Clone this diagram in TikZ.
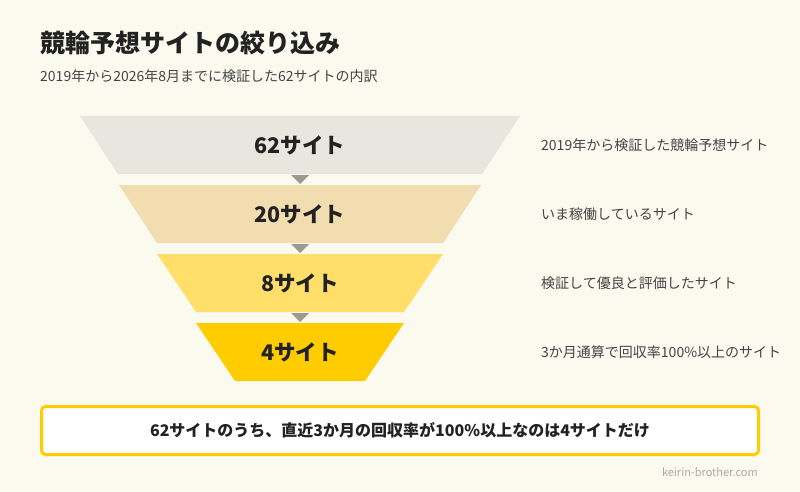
\documentclass[tikz,border=0pt]{standalone}
\usepackage{fontspec}
\setmainfont{Noto Sans CJK JP}
\usepackage{xcolor}
\usetikzlibrary{positioning,calc}

\definecolor{bgcream}{HTML}{FAFAEF}
\definecolor{inkdark}{HTML}{222222}
\definecolor{inkmid}{HTML}{444444}
\definecolor{stageA}{HTML}{E8E6DF}
\definecolor{stageB}{HTML}{F1DDAF}
\definecolor{stageC}{HTML}{FFDE6A}
\definecolor{stageD}{HTML}{FFCC00}
\definecolor{tipgray}{HTML}{9A9A92}
\definecolor{sitegray}{HTML}{AAAAAA}

\begin{document}
\begin{tikzpicture}[x=1pt, y=-1pt,
  stagetext/.style={font=\fontsize{21.5}{24}\selectfont\bfseries, text=inkdark, inner sep=0pt},
  notetext/.style={font=\fontsize{14}{16}\selectfont, text=inkmid, anchor=west, inner sep=0pt},
  summarybox/.style={draw=stageD, line width=3pt, rounded corners=4pt, fill=white,
    minimum width=717pt, minimum height=48pt, inner sep=0pt,
    font=\fontsize{16}{19}\selectfont\bfseries, text=inkdark}]
  % Background
  \fill[bgcream] (0,0) rectangle (800,492);
  \useasboundingbox (0,0) rectangle (800,492);

  % Heading
  \node[anchor=west, inner sep=0pt, text=inkdark, font=\fontsize{25}{28}\selectfont\bfseries]
    (title) at (40,43) {競輪予想サイトの絞り込み};
  \node[anchor=west, inner sep=0pt, text=inkmid, font=\fontsize{14}{16}\selectfont]
    (subtitle) at (40,76) {2019年から2026年8月までに検証した62サイトの内訳};

  % Funnel stages
  \fill[stageA] (80,116) -- (520,116) -- (482,174) -- (118,174) -- cycle;
  \fill[stageB] (119,185) -- (481,185) -- (443,243) -- (157,243) -- cycle;
  \fill[stageC] (157,254) -- (443,254) -- (404,312) -- (196,312) -- cycle;
  \fill[stageD] (196,323) -- (404,323) -- (365,381) -- (235,381) -- cycle;

  \node[stagetext] (s62) at (300,145) {62サイト};
  \node[stagetext] (s20) at (300,214) {20サイト};
  \node[stagetext] (s8)  at (300,283) {8サイト};
  \node[stagetext] (s4)  at (300,352) {4サイト};

  % Markers between stages
  \fill[tipgray] ($(s62)!.5!(s20)$) ++(-9,-4.5) -- ++(18,0) -- ++(-9,9) -- cycle;
  \fill[tipgray] ($(s20)!.5!(s8)$) ++(-9,-4.5) -- ++(18,0) -- ++(-9,9) -- cycle;
  \fill[tipgray] ($(s8)!.5!(s4)$) ++(-9,-4.5) -- ++(18,0) -- ++(-9,9) -- cycle;

  % Notes on the right
  \node[notetext] (n62) at (541,145) {2019年から検証した競輪予想サイト};
  \node[notetext] (n20) at (541,214) {いま稼働しているサイト};
  \node[notetext] (n8)  at (541,283) {検証して優良と評価したサイト};
  \node[notetext] (n4)  at (541,352) {3か月通算で回収率100\%以上のサイト};

  % Summary
  \node[summarybox] (summary) at (400,430.5)
    {62サイトのうち、直近3か月の回収率が100\%以上なのは4サイトだけ};
  \node[anchor=east, inner sep=0pt, text=sitegray, font=\fontsize{11}{13}\selectfont]
    (site) at (758,472) {keirin-brother.com};
\end{tikzpicture}
\end{document}
